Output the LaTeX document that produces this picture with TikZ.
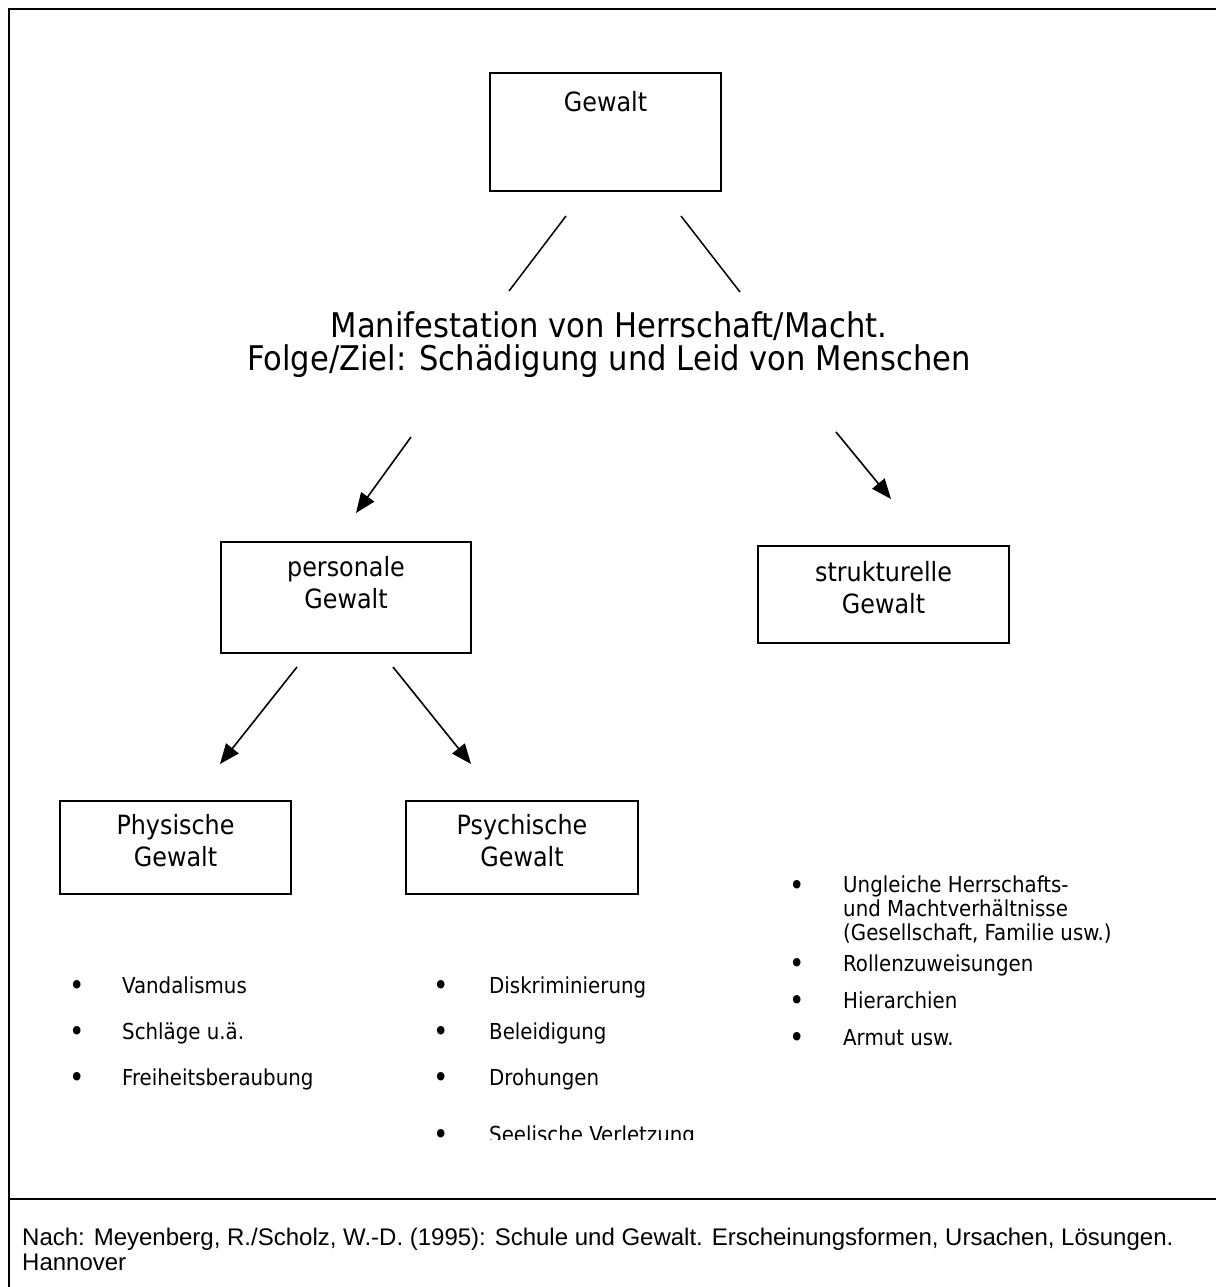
\documentclass[tikz,border=0pt]{standalone}
\usepackage{fontspec}
\usetikzlibrary{positioning, arrows.meta}
\newfontfamily\diagfont{DejaVu Sans Condensed}
\newfontfamily\notefont{Liberation Sans}
\tikzstyle{frameLine} = [
    line width=2.5pt
    ]
\tikzstyle{whiteRectangle} = [
    rectangle,
    draw,
    line width=2pt,
    inner sep=0pt,
    anchor=north west
    ]
\tikzstyle{boxLabel} = [
    font=\diagfont\fontsize{26.5}{32}\selectfont,
    align=center,
    inner sep=0pt
    ]
\tikzstyle{plainLine} = [
    line width=1.5pt
    ]
\tikzstyle{arrowLine} = [
    line width=1.6pt,
    -{Triangle[length=20pt, width=16pt]}
    ]
\tikzstyle{dotNode} = [
    font=\diagfont\fontsize{29}{24}\selectfont,
    inner sep=0pt,
    anchor=base
    ]
\tikzstyle{itemNode} = [
    font=\diagfont\fontsize{22}{24}\selectfont,
    inner sep=0pt,
    align=left
    ]

\begin{document}
\begin{tikzpicture}[x=1pt, y=-1pt]
      \useasboundingbox (0,0) rectangle (1216,1287);
      % frame and footer line
      \draw[frameLine] (9,1287) -- (9,9) -- (1216,9);
      \draw[frameLine] (9,1199) -- (1216,1199);

      % top box
      \node[whiteRectangle, minimum width=231pt, minimum height=118pt] at (489,72) (gewalt) {};
      \node[boxLabel, below=19pt of gewalt.north] (gewaltText) {Gewalt};
      \coordinate (gewaltL1) at (566,216);
      \coordinate (gewaltL2) at (509,291);
      \coordinate (gewaltR1) at (681,216);
      \coordinate (gewaltR2) at (740,292);
      \draw[plainLine] (gewaltL1) -- (gewaltL2);
      \draw[plainLine] (gewaltR1) -- (gewaltR2);

      \node[font=\diagfont\fontsize{34}{33}\selectfont, align=center, inner sep=0pt] at (609,345) (manifest)
          {Manifestation von Herrschaft/Macht.\\Folge/Ziel: Schädigung und Leid von Menschen};

      \coordinate (manifestL) at (411,437);
      \coordinate (manifestR) at (836,432);

      % personale / strukturelle
      \node[whiteRectangle, minimum width=250pt, minimum height=111pt] at (220,541) (personal) {};
      \node[boxLabel, below=15pt of personal.north] (personalText) {personale\\Gewalt};
      \node[whiteRectangle, minimum width=251pt, minimum height=97pt] at (757,545) (struct) {};
      \node[boxLabel, below=16pt of struct.north] (structText) {strukturelle\\Gewalt};
      \coordinate (personalTip) at (356,513);
      \coordinate (structTip) at (891,499);
      \draw[arrowLine] (manifestL) -- (personalTip);
      \draw[arrowLine] (manifestR) -- (structTip);

      % physische / psychische
      \coordinate (personalL) at (297,667);
      \coordinate (personalR) at (393,667);
      \coordinate (physTip) at (220,764);
      \coordinate (psychTip) at (471,764);
      \draw[arrowLine] (personalL) -- (physTip);
      \draw[arrowLine] (personalR) -- (psychTip);
      \node[whiteRectangle, minimum width=231pt, minimum height=93pt] at (59,800) (phys) {};
      \node[boxLabel, below=14pt of phys.north] (physText) {Physische\\Gewalt};
      \node[whiteRectangle, minimum width=232pt, minimum height=93pt] at (405,800) (psych) {};
      \node[boxLabel, below=14pt of psych.north] (psychText) {Psychische\\Gewalt};

      % lists
      \foreach \itm [count=\i] in {Vandalismus, Schläge u.ä., Freiheitsberaubung}
      {
        \node[dotNode] (physDot\i) at (77, {995+46*(\i-1)}) {\textbullet};
        \node[itemNode, anchor=base west] (physItem\i) at (122, {993+46*(\i-1)}) {\itm};
      }
      \begin{scope}
        \clip (0,0) rectangle (1216,1139);
        \foreach \itm/\yy [count=\i] in {Diskriminierung/993, Beleidigung/1039, Drohungen/1085, Seelische Verletzung/1142}
        {
          \node[dotNode] (psychDot\i) at (441, \yy+2) {\textbullet};
          \node[itemNode, anchor=base west] (psychItem\i) at (489, \yy) {\itm};
        }
      \end{scope}
      \node[dotNode] (structDot1) at (797,895) {\textbullet};
      \node[itemNode, anchor=north west] (structItem1) at (843,876)
          {Ungleiche Herrschafts-\\und Machtverhältnisse\\(Gesellschaft, Familie usw.)};
      \foreach \itm [count=\i from 2] in {Rollenzuweisungen, Hierarchien, Armut usw.}
      {
        \node[dotNode] (structDot\i) at (797, {973+37*(\i-2)}) {\textbullet};
        \node[itemNode, anchor=base west] (structItem\i) at (843, {971+37*(\i-2)}) {\itm};
      }

      % source
      \node[font=\notefont\fontsize{24}{25}\selectfont, align=left, inner sep=0pt, anchor=north west] at (22,1228) (source)
          {Nach: Meyenberg, R./Scholz, W.-D. (1995): Schule und Gewalt. Erscheinungsformen, Ursachen, Lösungen.\\Hannover};
\end{tikzpicture}
\end{document}
